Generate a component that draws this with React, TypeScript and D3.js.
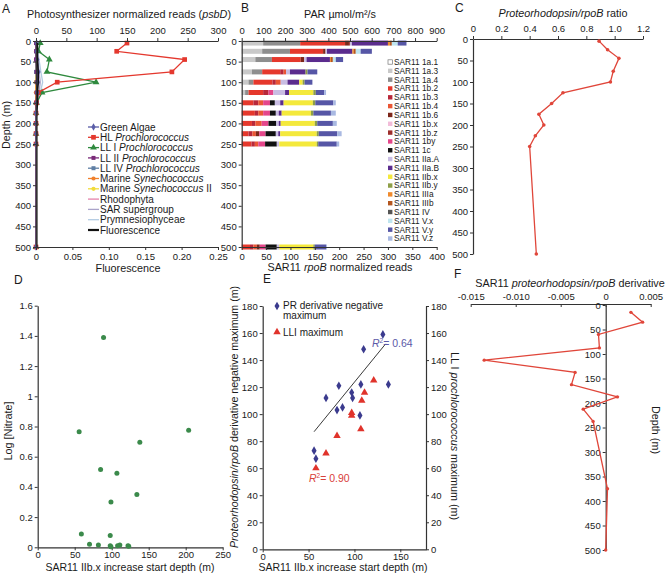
import React, { useEffect, useRef } from "react";
import * as d3 from "d3";

const FONT = "'Liberation Sans', Arial, sans-serif";
const AXIS = "#333";

// sample depths (m) shared by panels A, B and C
const depths = [5, 25, 45, 75, 100, 125, 150, 175, 200, 225, 250, 500];

// A - photosynthesizer psbD reads per depth
const greenAlgae = [1, 1, 2, 4, 3, 2, 1, 0, 0, 0, 0, 0];
const hlPro = [150, 133, 245, 224, 35, 4, 1, 0, 0, 0, 0, 0];
const llIPro = [7, 4, 22, 18, 99, 10, 1, 0, 0, 0, 0, 0];
const llIIPro = [0, 0, 0, 1, 2, 1, 0, 0, 0, 0, 0, 0];
const llIVPro = [0, 0, 0, 0, 1, 2, 1, 0, 0, 0, 0, 0];
const marineSyn = [1, 1, 1, 1, 0, 0, 0, 0, 0, 0, 0, 0];
const marineSynII = [0, 0, 0, 0, 0, 0, 0, 0, 0, 0, 0, 0];
const rhodophyta = [0, 1, 1, 2, 2, 1, 0, 0, 0, 0, 0, 0];
const sarSuper = [1, 2, 3, 5, 7, 5, 2, 1, 0, 0, 0, 0];
const prymnesio = [2, 3, 5, 8, 11, 7, 3, 1, 0, 0, 0, 0];
const fluorescence = [0.002, 0.002, 0.002, 0.003, 0.003, 0.002, 0.002, 0.001, 0.001, 0.001, 0.001, 0.001];

// B - SAR11 rpoB reads, one row per depth, columns follow sar11Clades
const sar11Clades = [
  "SAR11 1a.1", "SAR11 1a.3", "SAR11 1a.4", "SAR11 1b.2", "SAR11 1b.3", "SAR11 1b.4",
  "SAR11 1b.6", "SAR11 1b.x", "SAR11 1b.z", "SAR11 1by", "SAR11 1c", "SAR11 IIa.A",
  "SAR11 IIa.B", "SAR11 IIb.x", "SAR11 IIb.y", "SAR11 IIIa", "SAR11 IIIb", "SAR11 IV",
  "SAR11 V.x", "SAR11 V.y", "SAR11 V.z",
];
const sar11Colors = [
  "#ffffff", "#c9c9c9", "#8e8e8e", "#e5382c", "#b8283a", "#ea5634",
  "#7c2619", "#f2bcd9", "#9e2f2c", "#e4468a", "#111111", "#c9bde3",
  "#5b2c8e", "#f4e93c", "#8e9f48", "#f08a2c", "#b4561f", "#555555",
  "#bfe5ef", "#5656a6", "#a9b9e2",
];
const sar11Reads = [
  [0, 44, 76, 92, 0, 0, 8, 0, 2, 0, 0, 4, 74, 0, 0, 4, 4, 0, 12, 18, 0],
  [0, 42, 57, 68, 0, 0, 5, 0, 0, 0, 0, 3, 52, 0, 0, 3, 4, 0, 10, 23, 0],
  [0, 28, 34, 59, 0, 0, 7, 0, 0, 0, 0, 5, 48, 0, 0, 2, 4, 0, 6, 15, 0],
  [0, 21, 21, 37, 7, 5, 0, 0, 0, 0, 0, 8, 32, 0, 4, 0, 0, 0, 0, 20, 0],
  [0, 14, 10, 39, 7, 10, 0, 0, 0, 0, 0, 14, 24, 7, 4, 0, 0, 0, 0, 16, 0],
  [0, 7, 7, 30, 11, 0, 0, 0, 0, 10, 0, 24, 8, 50, 5, 0, 0, 0, 0, 17, 4],
  [0, 0, 0, 24, 10, 10, 0, 0, 0, 14, 10, 11, 7, 60, 5, 0, 0, 0, 0, 37, 5],
  [0, 0, 0, 27, 7, 10, 0, 0, 0, 14, 12, 6, 6, 60, 5, 0, 0, 0, 0, 36, 10],
  [0, 0, 0, 21, 7, 13, 0, 0, 0, 14, 16, 5, 4, 70, 5, 0, 0, 0, 0, 32, 8],
  [0, 0, 0, 14, 8, 7, 7, 0, 0, 13, 21, 5, 4, 75, 4, 0, 0, 0, 0, 38, 9],
  [0, 0, 0, 20, 7, 7, 0, 0, 0, 14, 24, 5, 0, 77, 3, 0, 0, 0, 0, 38, 5],
  [0, 0, 0, 17, 7, 7, 6, 0, 0, 12, 23, 5, 0, 70, 3, 0, 0, 0, 0, 23, 2],
];

// C - proteorhodopsin / rpoB ratio
const prRatio = [0.89, 0.95, 1.03, 0.99, 0.97, 0.635, 0.555, 0.465, 0.5, 0.44, 0.4, 0.447];

// D - nitrate vs IIb.x start depth
const nitrateDepth = [89, 56, 204, 138, 85, 107, 134, 99, 59, 98, 70, 82, 98, 99, 108, 111, 122, 123];
const nitrateLog = [1.39, 0.765, 0.775, 0.695, 0.515, 0.49, 0.35, 0.3, 0.088, 0.078, 0.02, 0.015, 0.01, 0.004, 0.01, 0.015, 0.01, 0.007];

// E - maxima vs IIb.x start depth
const prMaxX = [131, 110, 83, 107, 97, 69, 98, 81, 87, 106, 56, 58, 137];
const prMaxY = [159, 148, 121, 122, 116, 112, 112, 103, 105, 99, 73, 67, 122];
const lliMaxX = [121, 111, 108, 97, 97, 107, 81, 69, 58];
const lliMaxY = [125, 116, 110, 101, 99, 89, 84, 71, 60];
const prFitX = [56, 134];
const prFitY = [87, 152];

// F - derivative of the PR/rpoB ratio
const derivDepths = [15, 35, 60, 87.5, 112.5, 137.5, 162.5, 187.5, 212.5, 237.5, 375, 500];
const derivValues = [0.0028, 0.0041, -0.0008, -0.0007, -0.0135, -0.0034, -0.0038, 0.0013, -0.0025, -0.0014, 0.0002, 0];

const depthTicks = d3.range(0, 501, 50);

const Axis = ({ scale, orient, x = 0, y = 0, values, format, size = 3, pad = 2, fs = 9.5 }: any) => {
  const ref = useRef<SVGGElement>(null);
  useEffect(() => {
    const make: any = { top: d3.axisTop, bottom: d3.axisBottom, left: d3.axisLeft, right: d3.axisRight }[orient as string];
    const ax = make(scale).tickSizeInner(size).tickSizeOuter(0).tickPadding(pad);
    if (values) ax.tickValues(values);
    if (format) ax.tickFormat(format);
    const g = d3.select(ref.current!);
    g.call(ax);
    g.attr("font-family", FONT).attr("font-size", fs);
    g.select(".domain").attr("stroke", AXIS).attr("stroke-width", 1.2);
    g.selectAll(".tick line").attr("stroke", AXIS).attr("stroke-width", 1);
    g.selectAll(".tick text").attr("fill", "#1a1a1a");
  });
  return <g ref={ref} transform={`translate(${x},${y})`} />;
};

const sym = (type: any, size: number) => d3.symbol().type(type).size(size)() as string;

// ---------- Panel A ----------
const PanelA = () => {
  const x = d3.scaleLinear().domain([0, 300]).range([36, 218]);
  const xFl = d3.scaleLinear().domain([0, 0.25]).range([36, 218]);
  const y = d3.scaleLinear().domain([0, 500]).range([41, 247]);

  const series = [
    { label: ["Green Algae"], vals: greenAlgae, color: "#5a5ea8", shape: d3.symbolDiamond, size: 16 },
    { label: ["HL ", "Prochlorococcus"], vals: hlPro, color: "#e4382e", shape: d3.symbolSquare, size: 22 },
    { label: ["LL I ", "Prochlorococcus"], vals: llIPro, color: "#2f8a3e", shape: d3.symbolTriangle, size: 20 },
    { label: ["LL II ", "Prochlorococcus"], vals: llIIPro, color: "#7a2a78", shape: d3.symbolSquare, size: 16 },
    { label: ["LL IV ", "Prochlorococcus"], vals: llIVPro, color: "#5f7fa4", shape: d3.symbolSquare, size: 16 },
    { label: ["Marine ", "Synechococcus"], vals: marineSyn, color: "#f0802c", shape: d3.symbolCircle, size: 14 },
    { label: ["Marine ", "Synechococcus", " II"], vals: marineSynII, color: "#f2dc3a", shape: d3.symbolCircle, size: 14 },
    { label: ["Rhodophyta"], vals: rhodophyta, color: "#e683ab", shape: null, size: 0 },
    { label: ["SAR supergroup"], vals: sarSuper, color: "#aaa3c9", shape: null, size: 0 },
    { label: ["Prymnesiophyceae"], vals: prymnesio, color: "#b3cbe2", shape: null, size: 0 },
  ];
  const line = (vals: number[]) =>
    d3.line<number>().x((d) => x(d)).y((_, i) => y(depths[i]))(vals) as string;
  const flLine = d3.line<number>().x((d) => xFl(d)).y((_, i) => y(depths[i]))(fluorescence) as string;
  const legendY = d3.scaleLinear().domain([0, 10]).range([127, 230]);

  return (
    <g>
      {[...series].reverse().map((s, k) => (
        <g key={k}>
          <path d={line(s.vals)} fill="none" stroke={s.color} strokeWidth={1.3} />
          {s.shape &&
            s.vals.map((v, i) => (
              <path key={i} d={sym(s.shape, s.size)} transform={`translate(${x(v)},${y(depths[i])})`} fill={s.color} />
            ))}
        </g>
      ))}
      <path d={flLine} fill="none" stroke="#111" strokeWidth={1.6} />
      <Axis scale={x} orient="top" y={41} values={d3.range(0, 301, 50)} pad={4} />
      <Axis scale={y} orient="left" x={36} values={depthTicks} />
      <Axis scale={xFl} orient="bottom" y={247} values={d3.range(0, 0.2501, 0.05)} pad={3}
        format={(d: number) => (d === 0 ? "0" : d.toFixed(2))} />
      {[...series, { label: ["Fluorescence"], vals: [], color: "#111", shape: null, size: 0 }].map((s, i) => (
        <g key={i} transform={`translate(0,${legendY(i)})`}>
          <line x1={88} x2={99} y1={0} y2={0} stroke={s.color} strokeWidth={i === 10 ? 2.2 : 1.3} />
          {s.shape && <path d={sym(s.shape, s.size)} transform="translate(93.5,0)" fill={s.color} />}
          <text x={100} y={3.6} fontSize={10} fill="#1a1a1a">
            {s.label.map((t, j) => (
              <tspan key={j} fontStyle={j === 1 ? "italic" : "normal"}>{t}</tspan>
            ))}
          </text>
        </g>
      ))}
      <text x={129} y={18} textAnchor="middle" fontSize={10.8}>
        Photosynthesizer normalized reads (<tspan fontStyle="italic">psbD</tspan>)
      </text>
      <text x={128} y={272} textAnchor="middle" fontSize={10.8}>Fluorescence</text>
      <text transform="translate(10,125) rotate(-90)" textAnchor="middle" fontSize={10.8}>Depth (m)</text>
      <text x={2} y={13} fontSize={12}>A</text>
    </g>
  );
};

// ---------- Panel B ----------
const PanelB = () => {
  const x = d3.scaleLinear().domain([0, 400]).range([241.7, 436.7]);
  const xPar = d3.scaleLinear().domain([0, 900]).range([241.7, 436.7]);
  const y = d3.scaleLinear().domain([0, 500]).range([41, 247]);
  const rows = sar11Reads.map((r, i) => {
    const o: any = { depth: depths[i] };
    sar11Clades.forEach((c, j) => (o[c] = r[j]));
    return o;
  });
  const stacked = d3.stack<any>().keys(sar11Clades)(rows);
  const band = 5;
  const legendY = d3.scaleLinear().domain([0, 20]).range([62, 238.5]);
  return (
    <g>
      {stacked.map((layer, k) => (
        <g key={k} fill={sar11Colors[k]}>
          {layer.map((d, i) =>
            d[1] - d[0] > 0 ? (
              <rect key={i} x={x(d[0])} width={x(d[1]) - x(d[0])} y={y(d.data.depth) - band / 2} height={band} />
            ) : null
          )}
        </g>
      ))}
      <Axis scale={xPar} orient="top" y={41} values={d3.range(0, 901, 100)} pad={4} />
      <Axis scale={y} orient="left" x={241.7} values={depthTicks} />
      <Axis scale={x} orient="bottom" y={247} values={d3.range(0, 401, 50)} pad={3} />
      {sar11Clades.map((c, i) => (
        <g key={c} transform={`translate(0,${legendY(i)})`}>
          <rect x={388} y={-2.2} width={4.4} height={4.4} fill={sar11Colors[i]} stroke={i === 0 ? "#777" : "none"} strokeWidth={0.7} />
          <text x={394} y={2.9} fontSize={8.3} fill="#1a1a1a">{c}</text>
        </g>
      ))}
      <text x={340} y={18} textAnchor="middle" fontSize={10.8}>PAR µmol/m²/s</text>
      <text x={340} y={271} textAnchor="middle" fontSize={10.8}>
        SAR11 <tspan fontStyle="italic">rpoB</tspan> normalized reads
      </text>
      <text x={241} y={12} fontSize={12}>B</text>
    </g>
  );
};

// ---------- Panel C ----------
const PanelC = () => {
  const x = d3.scaleLinear().domain([0, 1.2]).range([473, 643]);
  const y = d3.scaleLinear().domain([0, 500]).range([39, 254]);
  const path = d3.line<number>().x((d) => x(d)).y((_, i) => y(depths[i]))(prRatio) as string;
  return (
    <g>
      <Axis scale={x} orient="top" y={39} values={d3.range(0, 1.21, 0.2)} pad={4}
        format={(d: number) => (d === 0 ? "0" : d.toFixed(1))} />
      <Axis scale={y} orient="left" x={473} values={depthTicks} />
      <path d={path} fill="none" stroke="#e0463a" strokeWidth={1.3} />
      {prRatio.map((v, i) => (
        <circle key={i} cx={x(v)} cy={y(depths[i])} r={1.8} fill="#e0463a" />
      ))}
      <text x={563} y={17} textAnchor="middle" fontSize={10.8}>
        <tspan fontStyle="italic">Proteorhodopsin/rpoB</tspan> ratio
      </text>
      <text x={455} y={12} fontSize={12}>C</text>
    </g>
  );
};

// ---------- Panel D ----------
const PanelD = () => {
  const x = d3.scaleLinear().domain([0, 250]).range([37.7, 222.7]);
  const y = d3.scaleLinear().domain([0, 1.6]).range([547.3, 305.7]);
  return (
    <g>
      <Axis scale={y} orient="left" x={37.7} values={d3.range(0, 1.61, 0.2)}
        format={(d: number) => String(+d.toFixed(1))} />
      <Axis scale={x} orient="bottom" y={547.3} values={d3.range(0, 251, 50)} pad={0.5} />
      {nitrateDepth.map((v, i) => (
        <circle key={i} cx={x(v)} cy={y(nitrateLog[i])} r={2.5} fill="#3b8a4b" />
      ))}
      <text x={130} y={571} textAnchor="middle" fontSize={10.5}>SAR11 IIb.x increase start depth (m)</text>
      <text transform="translate(12,431) rotate(-90)" textAnchor="middle" fontSize={10.8}>Log [Nitrate]</text>
      <text x={14} y={284} fontSize={12}>D</text>
    </g>
  );
};

// ---------- Panel E ----------
const PanelE = () => {
  const x = d3.scaleLinear().domain([0, 178]).range([262.7, 426]);
  const y = d3.scaleLinear().domain([0, 180]).range([549.3, 306]);
  const fit = d3.line<number>().x((d) => x(d)).y((_, i) => y(prFitY[i]))(prFitX) as string;
  return (
    <g>
      <Axis scale={y} orient="left" x={262.7} values={d3.range(0, 181, 20)} />
      <Axis scale={y} orient="right" x={426} values={d3.range(0, 181, 20)} />
      <Axis scale={x} orient="bottom" y={549.3} values={d3.range(0, 151, 50)} pad={0.5} />
      <path d={fit} stroke="#222" strokeWidth={0.9} fill="none" />
      {prMaxX.map((v, i) => (
        <path key={"p" + i} d={sym(d3.symbolDiamond, 22)} transform={`translate(${x(v)},${y(prMaxY[i])})`} fill="#3b3b8e" />
      ))}
      {lliMaxX.map((v, i) => (
        <path key={"l" + i} d={sym(d3.symbolTriangle, 24)} transform={`translate(${x(v)},${y(lliMaxY[i])})`} fill="#e0332b" />
      ))}
      <path d={sym(d3.symbolDiamond, 22)} transform="translate(277,306)" fill="#3b3b8e" />
      <text x={283} y={309.3} fontSize={10}>PR derivative negative</text>
      <text x={283} y={319} fontSize={10}>maximum</text>
      <path d={sym(d3.symbolTriangle, 24)} transform="translate(277,332)" fill="#e0332b" />
      <text x={283} y={335.5} fontSize={10}>LLI maximum</text>
      <text x={372} y={347} fontSize={10.5} fill="#5c5aa8">
        <tspan fontStyle="italic">R</tspan><tspan dy={-4} fontSize={6.5}>2</tspan><tspan dy={4}>= 0.64</tspan>
      </text>
      <text x={309} y={482} fontSize={10.5} fill="#d9413a">
        <tspan fontStyle="italic">R</tspan><tspan dy={-4} fontSize={6.5}>2</tspan><tspan dy={4}>= 0.90</tspan>
      </text>
      <text x={343} y={571} textAnchor="middle" fontSize={10.5}>SAR11 IIb.x increase start depth (m)</text>
      <text transform="translate(238,417) rotate(-90)" textAnchor="middle" fontSize={10.6}>
        <tspan fontStyle="italic">Proteorhodopsin/rpoB</tspan> derivative negative maximum (m)
      </text>
      <text transform="translate(451,436) rotate(90)" textAnchor="middle" fontSize={10.8}>
        LL I <tspan fontStyle="italic">prochlorococcus</tspan> maximum (m)
      </text>
      <text x={263} y={283} fontSize={12}>E</text>
    </g>
  );
};

// ---------- Panel F ----------
const PanelF = () => {
  const x = d3.scaleLinear().domain([-0.015, 0.005]).range([470.7, 650.7]);
  const y = d3.scaleLinear().domain([0, 500]).range([305, 550]);
  const path = d3.line<number>().x((d) => x(d)).y((_, i) => y(derivDepths[i]))(derivValues) as string;
  return (
    <g>
      <Axis scale={x} orient="top" y={304} values={d3.range(-0.015, 0.0051, 0.005)} size={-3} pad={4}
        format={(d: number) => (Math.abs(d) < 1e-9 ? "0" : d.toFixed(3))} />
      <Axis scale={y} orient="left" x={x(0)} values={depthTicks} />
      <path d={path} fill="none" stroke="#e0463a" strokeWidth={1.3} />
      {derivValues.map((v, i) => (
        <circle key={i} cx={x(v)} cy={y(derivDepths[i])} r={1.7} fill="#e0463a" />
      ))}
      <text x={570} y={287} textAnchor="middle" fontSize={10.8}>
        SAR11 <tspan fontStyle="italic">proteorhodopsin/rpoB</tspan> derivative
      </text>
      <text transform="translate(652,430) rotate(90)" textAnchor="middle" fontSize={10.8}>Depth (m)</text>
      <text x={454} y={278} fontSize={12}>F</text>
    </g>
  );
};

export default function App() {
  return (
    <svg width={666} height={576} style={{ position: "absolute", left: 0, top: 0, background: "#fff" }}
      fontFamily={FONT} fill="#1a1a1a">
      <PanelA />
      <PanelB />
      <PanelC />
      <PanelD />
      <PanelE />
      <PanelF />
    </svg>
  );
}
